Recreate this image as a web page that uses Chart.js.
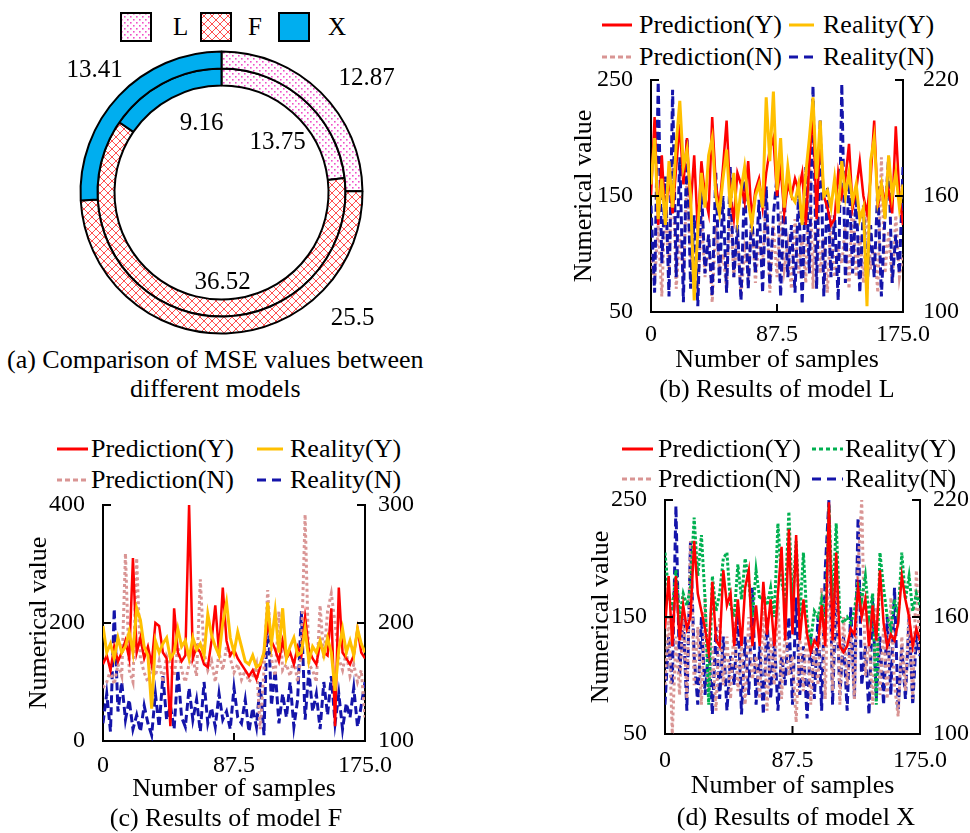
<!DOCTYPE html>
<html>
<head>
<meta charset="utf-8">
<script src="https://cdn.jsdelivr.net/npm/chart.js@4.4.0/dist/chart.umd.min.js"></script>
<style>
body{margin:0;background:#fff;width:970px;height:833px;position:relative;overflow:hidden;font-family:'Liberation Serif','Times New Roman',serif;color:#000}
canvas.c{position:absolute}
.cap{position:absolute;font-size:26px;white-space:nowrap;transform:translateY(-50%)}
.capc{position:absolute;font-size:26px;white-space:nowrap;transform:translate(-50%,-50%)}
.lg{position:absolute;font-size:26px;white-space:nowrap;transform:translateY(-50%)}
.lga{position:absolute;font-size:25px;white-space:nowrap;transform:translateY(-50%)}
.sym{position:absolute;height:3px;transform:translateY(-50%)}
.box{position:absolute}
</style>
</head>
<body>

<!-- (a) legend -->
<canvas class="box" id="boxL" width="32" height="30" style="left:120px;top:12px"></canvas>
<div class="lga" style="left:173px;top:27px">L</div>
<canvas class="box" id="boxF" width="32" height="30" style="left:200px;top:12px"></canvas>
<div class="lga" style="left:248px;top:27px">F</div>
<canvas class="box" id="boxX" width="32" height="30" style="left:278px;top:12px"></canvas>
<div class="lga" style="left:328px;top:27px">X</div>
<canvas class="c" id="donut" width="443" height="295" style="left:0;top:45px"></canvas>
<div class="cap" style="left:7px;top:360px">(a) Comparison of MSE values between</div>
<div class="cap" style="left:130px;top:389px">different models</div>

<!-- (b) legend -->
<div class="sym" style="left:602px;top:25px;width:30px;background:#FF0000"></div>
<div class="lg" style="left:639px;top:25px">Prediction(Y)</div>
<div class="sym" style="left:789px;top:25px;width:25px;background:#FFC000"></div>
<div class="lg" style="left:823px;top:25px">Reality(Y)</div>
<div class="sym" style="left:602px;top:57px;width:30px;background:repeating-linear-gradient(90deg,#D99594 0 5px,transparent 5px 8px)"></div>
<div class="lg" style="left:639px;top:57px">Prediction(N)</div>
<div class="sym" style="left:789px;top:57px;width:25px;background:repeating-linear-gradient(90deg,#1414AA 0 9px,transparent 9px 15px)"></div>
<div class="lg" style="left:823px;top:57px">Reality(N)</div>
<canvas class="c" id="chartL" width="410" height="320" style="left:560px;top:60px"></canvas>
<div class="capc" style="left:777px;top:389px">(b) Results of model L</div>

<!-- (c) legend -->
<div class="sym" style="left:57px;top:449px;width:31px;background:#FF0000"></div>
<div class="lg" style="left:91px;top:449px">Prediction(Y)</div>
<div class="sym" style="left:257px;top:449px;width:26px;background:#FFC000"></div>
<div class="lg" style="left:290px;top:449px">Reality(Y)</div>
<div class="sym" style="left:57px;top:480px;width:31px;background:repeating-linear-gradient(90deg,#D99594 0 5px,transparent 5px 8px)"></div>
<div class="lg" style="left:91px;top:480px">Prediction(N)</div>
<div class="sym" style="left:257px;top:480px;width:26px;background:repeating-linear-gradient(90deg,#1414AA 0 9px,transparent 9px 15px)"></div>
<div class="lg" style="left:290px;top:480px">Reality(N)</div>
<canvas class="c" id="chartF" width="420" height="320" style="left:0;top:485px"></canvas>
<div class="capc" style="left:226px;top:818px">(c) Results of model F</div>

<!-- (d) legend -->
<div class="sym" style="left:622px;top:449px;width:31px;background:#FF0000"></div>
<div class="lg" style="left:658px;top:449px">Prediction(Y)</div>
<div class="sym" style="left:812px;top:449px;width:31px;background:repeating-linear-gradient(90deg,#00B050 0 4px,transparent 4px 7px)"></div>
<div class="lg" style="left:845px;top:449px">Reality(Y)</div>
<div class="sym" style="left:622px;top:479px;width:31px;background:repeating-linear-gradient(90deg,#D99594 0 5px,transparent 5px 8px)"></div>
<div class="lg" style="left:658px;top:479px">Prediction(N)</div>
<div class="sym" style="left:812px;top:479px;width:31px;background:repeating-linear-gradient(90deg,#1414AA 0 9px,transparent 9px 15px)"></div>
<div class="lg" style="left:845px;top:479px">Reality(N)</div>
<canvas class="c" id="chartX" width="390" height="322" style="left:580px;top:480px"></canvas>
<div class="capc" style="left:796px;top:817px">(d) Results of model X</div>

<script>
// (a) MSE per model, outer ring and inner ring
const models = ['L', 'F', 'X'];
const mseOuter = [12.87, 25.5, 13.41];
const mseInner = [13.75, 36.52, 9.16];

// x grid of the sample plots (every 2.5 samples)
const samples = Array.from({length: 71}, (_, i) => i * 2.5);
const xTicks = [0, 87.5, 175];
const xTickText = ['0', '87.5', '175.0'];

// (b) model L  -- Y series on left axis (50-250), N series on right axis (100-220)
const predYL = [150,218,125,185,128,170,135,175,212,160, 200,140,185,120,180,150,135,218,160,140,
  175,215,150,130,170,160,145,180,130,155, 165,140,170,190,200,150,175,135,160,150,
  165,155,170,125,180,225,130,205,150,140, 125,130,170,150,165,195,140,155,180,150,
  135,165,215,140,160,145,155,135,210,150, 125];
const realYL = [160,200,130,165,125,180,140,195,232,175, 190,150,60,120,170,140,185,200,150,135,
  165,190,140,170,130,155,175,145,125,150, 160,140,235,180,240,155,200,140,175,150,
  145,160,125,170,200,235,165,215,150,155, 140,165,135,180,150,170,145,160,130,140,
  55,180,200,145,160,130,185,150,170,140, 160];
const predNL = [130,115,145,108,160,120,178,112,140,118, 170,125,135,110,150,118,140,105,145,122,
  130,112,155,118,140,108,132,120,150,115, 138,125,160,110,145,118,152,122,135,112,
  148,120,140,115,185,112,165,120,138,110, 150,118,132,125,145,112,160,118,140,115,
  155,122,135,110,180,120,142,115,150,118, 130];
const realNL = [155,110,219,125,170,108,215,118,180,105, 190,112,150,103,165,120,140,108,172,115,
  160,110,175,118,145,106,168,112,150,120, 158,110,165,114,150,170,108,160,118,145,
  110,162,104,175,120,217,112,200,108,165, 118,150,106,218,115,170,120,160,110,155,
  112,145,118,165,108,150,180,115,140,120, 175];

// (c) model F  -- Y series on left axis (0-400), N series on right axis (100-300)
const predYF = [130,145,120,160,135,150,170,140,310,150, 175,140,160,130,200,195,150,140,25,225,
  150,135,145,400,140,160,150,130,125,170, 230,150,260,170,145,155,140,130,120,110,
  120,105,125,150,200,170,155,135,170,140, 150,130,160,145,210,155,140,130,165,150,
  145,225,25,260,150,140,130,145,190,150, 140];
const realYF = [195,150,165,140,175,150,160,185,150,225, 205,160,145,55,170,150,165,175,140,150,
  190,160,170,140,175,155,165,145,215,180, 160,145,200,235,175,150,185,160,135,130,
  145,125,130,150,235,165,220,150,225,140, 160,175,145,150,190,135,160,150,170,145,
  175,150,85,155,190,150,170,145,190,165, 150];
const predNF = [145,150,160,148,165,155,259,160,150,255, 170,158,150,162,155,168,150,172,165,155,
  180,160,150,165,170,155,237,175,160,168, 150,175,160,180,170,158,165,152,160,150,
  155,165,110,160,228,170,155,210,160,165, 155,170,150,175,292,165,160,150,215,170,
  210,225,200,170,160,175,155,165,150,160, 120];
const realNF = [115,140,108,212,125,150,118,135,110,122, 108,130,115,105,140,112,155,118,130,110,
  160,120,112,145,118,135,108,150,115,128, 112,140,118,125,110,145,120,115,135,108,
  128,112,150,105,215,130,160,115,140,120, 150,112,135,210,118,160,125,140,110,150,
  122,155,115,140,110,132,120,145,112,130, 150];

// (d) model X  -- Y series on left axis (50-250), N series on right axis (100-220)
const predYX = [140,185,125,185,130,160,140,150,215,170, 155,140,120,180,130,125,190,160,170,125,
  165,125,175,190,125,160,125,180,135,165, 125,170,210,130,225,135,220,130,165,135,
  120,130,125,160,125,248,130,205,125,120, 125,140,135,175,150,165,125,160,130,190,
  145,125,135,130,145,185,165,150,125,140, 130];
const realYX = [205,170,155,190,150,170,160,175,235,185, 220,165,75,185,155,170,200,205,160,150,
  195,165,200,180,150,190,165,170,160,175, 150,230,180,165,240,160,215,150,205,145,
  130,155,150,165,145,245,160,230,150,145, 150,145,155,180,165,185,150,170,75,205,
  175,150,140,165,150,205,165,185,155,170, 160];
const predNX = [125,160,100,150,120,165,118,199,125,155, 115,170,120,145,112,160,125,150,118,158,
  122,145,115,160,128,140,118,165,112,150, 125,170,118,155,130,140,106,150,122,160,
  115,145,125,175,118,193,122,190,115,160, 125,150,118,185,220,130,150,115,165,120,
  155,118,170,125,109,150,122,165,118,184, 140];
const realNX = [115,150,125,217,130,160,112,199,140,115, 160,120,145,110,155,118,150,112,140,125,
  165,110,150,120,175,115,145,110,160,118, 150,112,140,125,160,115,170,120,145,108,
  150,118,160,112,185,220,115,175,120,150, 112,165,118,211,125,145,110,170,118,150,
  115,160,120,175,112,145,118,160,115,150, 140];

const serif = "'Liberation Serif','Times New Roman',serif";
const RED = '#FF0000', ORANGE = '#FFC000', PINK = '#D99594', BLUE = '#1414AA', GREEN = '#00B050';

// ---------- patterns for the doughnut ----------
function dotTile() {
  const c = document.createElement('canvas');
  c.width = 6; c.height = 6;
  const g = c.getContext('2d');
  g.fillStyle = '#fff'; g.fillRect(0, 0, 6, 6);
  g.fillStyle = '#F050C8';
  g.fillRect(1, 1, 1.6, 1.6);
  g.fillRect(4, 4, 1.6, 1.6);
  return c;
}
function crossTile() {
  const c = document.createElement('canvas');
  c.width = 8; c.height = 8;
  const g = c.getContext('2d');
  g.fillStyle = '#fff'; g.fillRect(0, 0, 8, 8);
  g.strokeStyle = '#FF5050'; g.lineWidth = 1;
  g.beginPath();
  g.moveTo(0, 0); g.lineTo(8, 8);
  g.moveTo(8, 0); g.lineTo(0, 8);
  g.stroke();
  return c;
}
const donutCtx = document.getElementById('donut').getContext('2d');
const fills = [
  donutCtx.createPattern(dotTile(), 'repeat'),
  donutCtx.createPattern(crossTile(), 'repeat'),
  '#00AEEF'
];

// legend boxes of (a)
['boxL', 'boxF', 'boxX'].forEach((id, i) => {
  const g = document.getElementById(id).getContext('2d');
  g.fillStyle = g.createPattern(i === 0 ? dotTile() : crossTile(), 'repeat');
  if (i === 2) g.fillStyle = fills[2];
  g.fillRect(0, 0, 32, 30);
  g.strokeStyle = '#000'; g.lineWidth = 2;
  g.strokeRect(1, 1, 30, 28);
});

// value labels, placed by hand around the rings (outer L,F,X then inner L,F,X)
const donutLabelOffsets = [[145, -114], [131, 126], [-127, -122], [56, -50], [1, 90], [-20, -69]];
const donutLabels = {
  id: 'donutLabels',
  afterDraw(chart) {
    const arc = chart.getDatasetMeta(0).data[0];
    const ctx = chart.ctx;
    const texts = [...mseOuter, ...mseInner].map(String);
    ctx.save();
    ctx.font = '25px ' + serif;
    ctx.fillStyle = '#000';
    ctx.textAlign = 'center';
    ctx.textBaseline = 'middle';
    texts.forEach((t, i) => {
      ctx.fillText(t, arc.x + donutLabelOffsets[i][0], arc.y + donutLabelOffsets[i][1]);
    });
    ctx.restore();
  }
};

new Chart(document.getElementById('donut'), {
  type: 'doughnut',
  data: {
    labels: models,
    datasets: [
      { data: mseOuter, backgroundColor: fills, borderColor: '#000', borderWidth: 2 },
      { data: mseInner, backgroundColor: fills, borderColor: '#000', borderWidth: 2 }
    ]
  },
  options: {
    responsive: false,
    animation: false,
    events: [],
    radius: 141,
    cutout: '75.9%',
    plugins: { legend: { display: false }, tooltip: { enabled: false } }
  },
  plugins: [donutLabels]
});

// ---------- line charts ----------
// short tick marks pointing into the plot
const inwardTicks = {
  id: 'inwardTicks',
  afterDraw(chart) {
    const ctx = chart.ctx, a = chart.chartArea;
    ctx.save();
    ctx.strokeStyle = '#000';
    ctx.lineWidth = 2;
    ctx.beginPath();
    ['y', 'y1'].forEach(id => {
      const s = chart.scales[id];
      const x0 = id === 'y' ? a.left : a.right;
      const dir = id === 'y' ? 1 : -1;
      s.ticks.forEach(t => {
        const py = s.getPixelForValue(t.value);
        ctx.moveTo(x0, py);
        ctx.lineTo(x0 + dir * 8, py);
      });
    });
    const sx = chart.scales.x;
    sx.ticks.forEach(t => {
      const px = sx.getPixelForValue(t.value);
      ctx.moveTo(px, a.bottom);
      ctx.lineTo(px, a.bottom - 8);
    });
    ctx.stroke();
    ctx.restore();
  }
};

function lineChart(id, o) {
  const font = { family: serif, size: 24 };
  const titleFont = { family: serif, size: 26 };
  const axis = (pos, range, width, pad) => ({
    position: pos,
    min: range[0], max: range[range.length - 1],
    afterBuildTicks: s => { s.ticks = range.map(v => ({ value: v })); },
    afterFit: s => { s.width = width; s.paddingTop = 0; s.paddingBottom = 0; },
    ticks: { font, color: '#000', padding: pad },
    grid: { display: false },
    border: { color: '#000', width: 2 }
  });
  const yLeft = axis('left', o.left, o.leftW, 10);
  yLeft.title = { display: true, text: 'Numerical value', font: titleFont, color: '#000',
                  padding: { top: o.yTitlePad, bottom: 0 } };
  const yRight = axis('right', o.right, o.rightW, o.rightPad);

  new Chart(document.getElementById(id), {
    type: 'line',
    data: {
      labels: samples,
      datasets: o.series.map(s => ({
        label: s.label,
        data: s.data,
        yAxisID: s.axis,
        order: s.order,
        borderColor: s.color,
        borderWidth: s.width,
        borderDash: s.dash || [],
        pointRadius: 0,
        tension: 0,
        fill: false
      }))
    },
    options: {
      responsive: false,
      animation: false,
      events: [],
      layout: { padding: { top: 20, left: 0, right: 0, bottom: 0 } },
      plugins: { legend: { display: false }, tooltip: { enabled: false } },
      scales: {
        x: {
          type: 'linear',
          min: 0, max: 175,
          afterBuildTicks: s => { s.ticks = xTicks.map(v => ({ value: v })); },
          afterFit: s => { s.height = o.xH; s.paddingLeft = 0; s.paddingRight = 0; },
          ticks: { font, color: '#000', padding: o.xPad, maxRotation: 0,
                   callback: v => xTickText[xTicks.indexOf(v)] },
          grid: { display: false },
          border: { color: '#000', width: 2 },
          title: { display: true, text: 'Number of samples', font: titleFont, color: '#000',
                   padding: { top: 0, bottom: o.xTitlePad } }
        },
        y: yLeft,
        y1: yRight
      }
    },
    plugins: [inwardTicks]
  });
}

// lower order is drawn on top
lineChart('chartL', {
  left: [50, 150, 250], right: [100, 160, 220],
  leftW: 91, rightW: 67, rightPad: 12, xH: 68, xPad: 0, xTitlePad: 4, yTitlePad: 9,
  series: [
    { label: 'Prediction(Y)', data: predYL, axis: 'y', color: RED, width: 2.5, order: 1 },
    { label: 'Reality(Y)', data: realYL, axis: 'y', color: ORANGE, width: 3, order: 0 },
    { label: 'Prediction(N)', data: predNL, axis: 'y1', color: PINK, width: 3, dash: [3, 3], order: 3 },
    { label: 'Reality(N)', data: realNL, axis: 'y1', color: BLUE, width: 3, dash: [8, 4], order: 2 }
  ]
});

lineChart('chartF', {
  left: [0, 200, 400], right: [100, 200, 300],
  leftW: 103, rightW: 55, rightPad: 5, xH: 64, xPad: 2, xTitlePad: 0, yTitlePad: 24,
  series: [
    { label: 'Prediction(Y)', data: predYF, axis: 'y', color: RED, width: 2.5, order: 1 },
    { label: 'Reality(Y)', data: realYF, axis: 'y', color: ORANGE, width: 3, order: 0 },
    { label: 'Prediction(N)', data: predNF, axis: 'y1', color: PINK, width: 3, dash: [3, 3], order: 2 },
    { label: 'Reality(N)', data: realNF, axis: 'y1', color: BLUE, width: 3, dash: [8, 4], order: 3 }
  ]
});

lineChart('chartX', {
  left: [50, 150, 250], right: [100, 160, 220],
  leftW: 85, rightW: 50, rightPad: 5, xH: 68, xPad: 4, xTitlePad: 0, yTitlePad: 6,
  series: [
    { label: 'Prediction(Y)', data: predYX, axis: 'y', color: RED, width: 2.5, order: 0 },
    { label: 'Reality(Y)', data: realYX, axis: 'y', color: GREEN, width: 3, dash: [3, 2], order: 1 },
    { label: 'Prediction(N)', data: predNX, axis: 'y1', color: PINK, width: 3, dash: [3, 3], order: 2 },
    { label: 'Reality(N)', data: realNX, axis: 'y1', color: BLUE, width: 3, dash: [8, 4], order: 3 }
  ]
});
</script>
</body>
</html>
